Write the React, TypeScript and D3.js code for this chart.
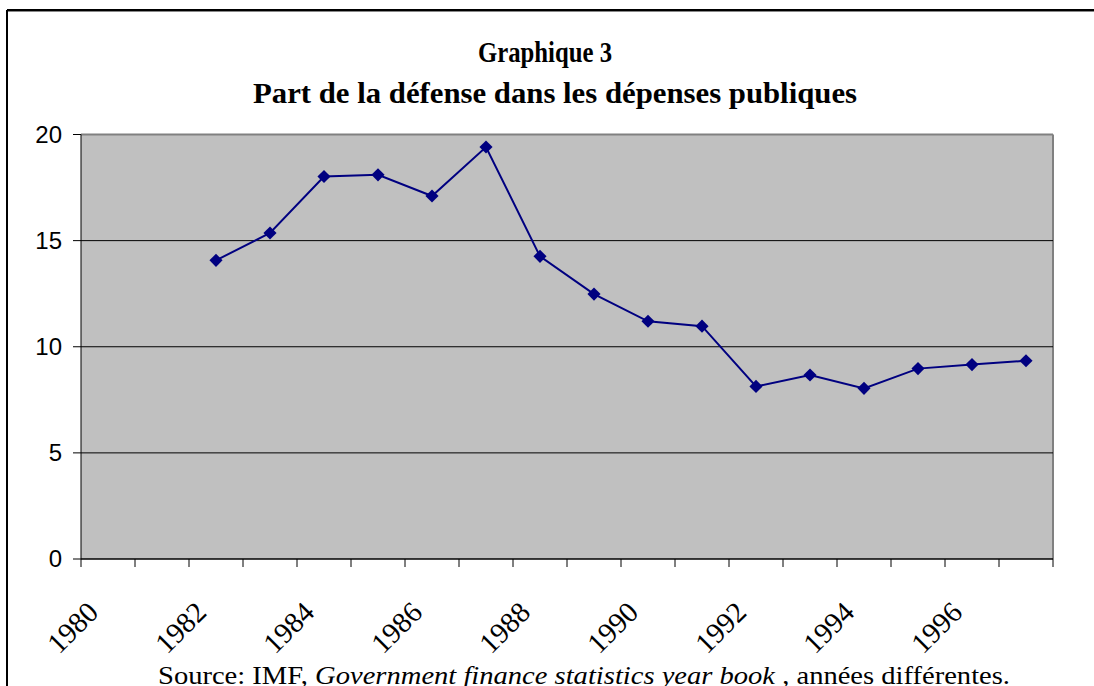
import React from "react";
import * as d3 from "d3";

const years = ["1980","1981","1982","1983","1984","1985","1986","1987","1988","1989","1990","1991","1992","1993","1994","1995","1996","1997"];
const dataYears = ["1982","1983","1984","1985","1986","1987","1988","1989","1990","1991","1992","1993","1994","1995","1996","1997"];
const defenseShare = [14.07, 15.36, 18.02, 18.1, 17.1, 19.41, 14.26, 12.48, 11.2, 10.97, 8.13, 8.67, 8.04, 8.97, 9.16, 9.34];
const yTicks = [0, 5, 10, 15, 20];
const xLabelYears = ["1980","1982","1984","1986","1988","1990","1992","1994","1996"];

const W = 1094, H = 686;
const left = 81, right = 1053, top = 134.5, bottom = 559;

export default function App() {
  const x = d3.scaleBand<string>().domain(years).range([left, right]).padding(0);
  const y = d3.scaleLinear().domain([0, 20]).range([bottom, top]);
  const cx = (yr: string) => (x(yr) as number) + x.bandwidth() / 2;
  const pts = dataYears.map((yr, i) => [cx(yr), y(defenseShare[i])] as [number, number]);
  const line = d3.line()(pts) as string;
  const diamond = d3.symbol().type(d3.symbolDiamond2).size(110)() as string;
  const boundaries = years.map((yr) => x(yr) as number).concat([right]);

  return (
    <svg width={W} height={H} style={{ position: "absolute", left: 0, top: 0, background: "#fff" }}>
      {/* frame */}
      <line x1={7} y1={10} x2={W} y2={10} stroke="#000" strokeWidth={2} />
      <line x1={7} y1={11.5} x2={W} y2={11.5} stroke="#888" strokeWidth={1} />
      <line x1={7} y1={10} x2={7} y2={H} stroke="#000" strokeWidth={2} />

      {/* titles */}
      <text x={545} y={62} textAnchor="middle" fontFamily="Liberation Serif, Times New Roman, serif" fontWeight="bold" fontSize={30} textLength={134} lengthAdjust="spacingAndGlyphs">Graphique 3</text>
      <text x={555} y={103} textAnchor="middle" fontFamily="Liberation Serif, Times New Roman, serif" fontWeight="bold" fontSize={30} textLength={604} lengthAdjust="spacingAndGlyphs">Part de la défense dans les dépenses publiques</text>

      {/* plot area */}
      <rect x={left} y={top} width={right - left} height={bottom - top} fill="#C0C0C0" />
      <line x1={left} y1={top} x2={right} y2={top} stroke="#808080" strokeWidth={2} />
      <line x1={right} y1={top} x2={right} y2={bottom} stroke="#808080" strokeWidth={2} />
      {yTicks.filter((t) => t > 0 && t < 20).map((t) => (
        <line key={t} x1={left} x2={right} y1={y(t)} y2={y(t)} stroke="#000" strokeWidth={1} />
      ))}

      {/* y axis */}
      <line x1={left} y1={top} x2={left} y2={bottom} stroke="#000" strokeWidth={1} />
      {yTicks.map((t) => (
        <g key={t}>
          <line x1={left - 8} x2={left} y1={y(t)} y2={y(t)} stroke="#000" strokeWidth={1} />
          <text x={62} y={y(t) + 8} textAnchor="end" fontFamily="Liberation Sans, Arial, sans-serif" fontSize={24}>{t}</text>
        </g>
      ))}

      {/* x axis */}
      <line x1={left} y1={bottom} x2={right} y2={bottom} stroke="#000" strokeWidth={1.5} />
      {boundaries.map((bx, i) => (
        <line key={i} x1={bx} x2={bx} y1={bottom} y2={bottom + 8} stroke="#000" strokeWidth={1} />
      ))}
      {xLabelYears.map((yr) => (
        <text key={yr} transform={`translate(${cx(yr) - 8},${614}) rotate(-45)`} textAnchor="end" fontFamily="Liberation Serif, Times New Roman, serif" fontSize={29}>{yr}</text>
      ))}

      {/* series */}
      <path d={line} fill="none" stroke="#000080" strokeWidth={2} />
      {pts.map((p, i) => (
        <path key={i} d={diamond} transform={`translate(${p[0]},${p[1]})`} fill="#000080" />
      ))}

      {/* source */}
      <text x={584} y={684} textAnchor="middle" fontFamily="Liberation Serif, Times New Roman, serif" fontSize={25} textLength={852} lengthAdjust="spacingAndGlyphs">
        <tspan>Source: IMF, </tspan>
        <tspan fontStyle="italic">Government finance statistics year book</tspan>
        <tspan> , années différentes.</tspan>
      </text>
    </svg>
  );
}
